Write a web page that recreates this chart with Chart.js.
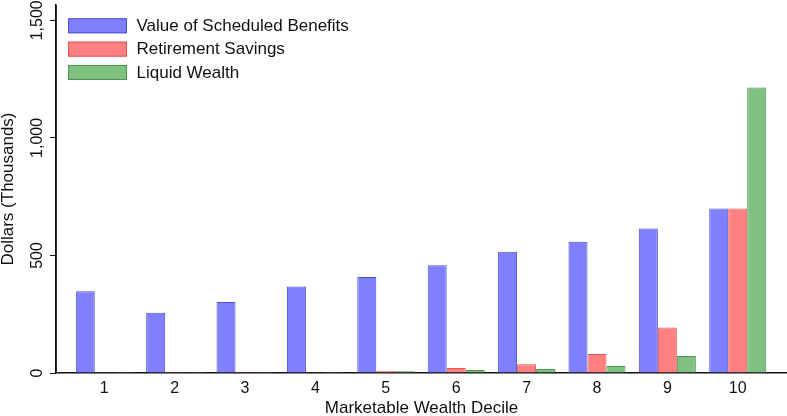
<!DOCTYPE html>
<html>
<head>
<meta charset="utf-8">
<script src="https://cdn.jsdelivr.net/npm/chart.js@4"></script>
<style>
  html, body { margin: 0; padding: 0; background: #fff; }
  #wrap { width: 787px; height: 416px; }
</style>
</head>
<body>
<div id="wrap"><canvas id="chart"></canvas></div>
<script>
// values, thousands of dollars
const deciles = [1, 2, 3, 4, 5, 6, 7, 8, 9, 10];
const scheduledBenefits = [348, 256, 302, 368, 408, 458, 516, 558, 615, 700];
const retirementSavings = [1, 0.5, 0.5, 1, 10, 21, 37, 81, 193, 700];
const liquidWealth = [0.5, 0.3, 0.3, 0.5, 7, 13, 17, 30, 72, 1214];
const yTicks = [0, 500, 1000, 1500];

const FONT = "'Liberation Sans', Arial, sans-serif";
const INK = '#111';

// legend drawn inside the plot, top left; also makes sure the y axis line is there
const insideLegend = {
  id: 'insideLegend',
  afterDraw(chart) {
    const ctx = chart.ctx;
    const area = chart.chartArea;
    ctx.save();
    ctx.strokeStyle = INK;
    ctx.lineWidth = 1.5;
    ctx.beginPath();
    ctx.moveTo(chart.scales.y.right, area.top);
    ctx.lineTo(chart.scales.y.right, area.bottom);
    ctx.stroke();

    ctx.font = '17px ' + FONT;
    ctx.textBaseline = 'middle';
    chart.data.datasets.forEach((ds, i) => {
      const x = area.left + 12;
      const y = 18.3 + i * 23.35;
      ctx.fillStyle = ds.backgroundColor;
      ctx.fillRect(x, y, 59, 15);
      ctx.strokeStyle = ds.borderColor;
      ctx.lineWidth = 1;
      ctx.strokeRect(x + 0.5, y + 0.5, 58, 14);
      ctx.fillStyle = INK;
      ctx.fillText(ds.label, x + 68.5, y + 8);
    });
    ctx.restore();
  }
};

new Chart(document.getElementById('chart'), {
  type: 'bar',
  data: {
    labels: deciles,
    datasets: [
      { label: 'Value of Scheduled Benefits', data: scheduledBenefits,
        backgroundColor: 'rgb(128,128,255)', borderColor: 'rgb(80,80,215)', borderWidth: 1 },
      { label: 'Retirement Savings', data: retirementSavings,
        backgroundColor: 'rgb(255,128,128)', borderColor: 'rgb(225,85,85)', borderWidth: 1 },
      { label: 'Liquid Wealth', data: liquidWealth,
        backgroundColor: 'rgb(128,192,128)', borderColor: 'rgb(75,150,75)', borderWidth: 1 }
    ]
  },
  options: {
    responsive: true,
    maintainAspectRatio: false,
    animation: false,
    layout: { padding: { top: 5, right: 0, left: 0, bottom: 0 } },
    categoryPercentage: 0.81,
    barPercentage: 1.0,
    plugins: {
      legend: { display: false },
      tooltip: { enabled: false }
    },
    scales: {
      x: {
        type: 'linear',
        offset: false,
        min: 0.314,
        max: 10.7,
        afterBuildTicks: s => { s.ticks = deciles.map(v => ({ value: v })); },
        afterFit: s => { s.height = 43; },
        grid: { display: false, drawTicks: false, offset: false },
        border: { display: true, color: INK, width: 1.5 },
        ticks: {
          color: INK, padding: 6,
          font: { family: FONT, size: 16 },
          callback: v => String(v)
        },
        title: {
          display: true, text: 'Marketable Wealth Decile', color: INK,
          font: { family: FONT, size: 17 }, padding: { top: 0, bottom: -3 }
        }
      },
      y: {
        min: 0,
        max: 1565,
        afterBuildTicks: s => { s.ticks = yTicks.map(v => ({ value: v })); },
        afterFit: s => { s.width = 56; },
        grid: { display: true, drawOnChartArea: false, drawTicks: true, tickLength: 6, color: INK },
        border: { display: true, color: INK, width: 1.5 },
        ticks: {
          color: INK, padding: -8,
          minRotation: 90, maxRotation: 90, crossAlign: 'center',
          font: { family: FONT, size: 16 },
          callback: v => v.toLocaleString('en-US')
        },
        title: {
          display: true, text: 'Dollars (Thousands)', color: INK,
          font: { family: FONT, size: 17 }, padding: { top: -2, bottom: 0 }
        }
      }
    }
  },
  plugins: [insideLegend]
});
</script>
</body>
</html>
